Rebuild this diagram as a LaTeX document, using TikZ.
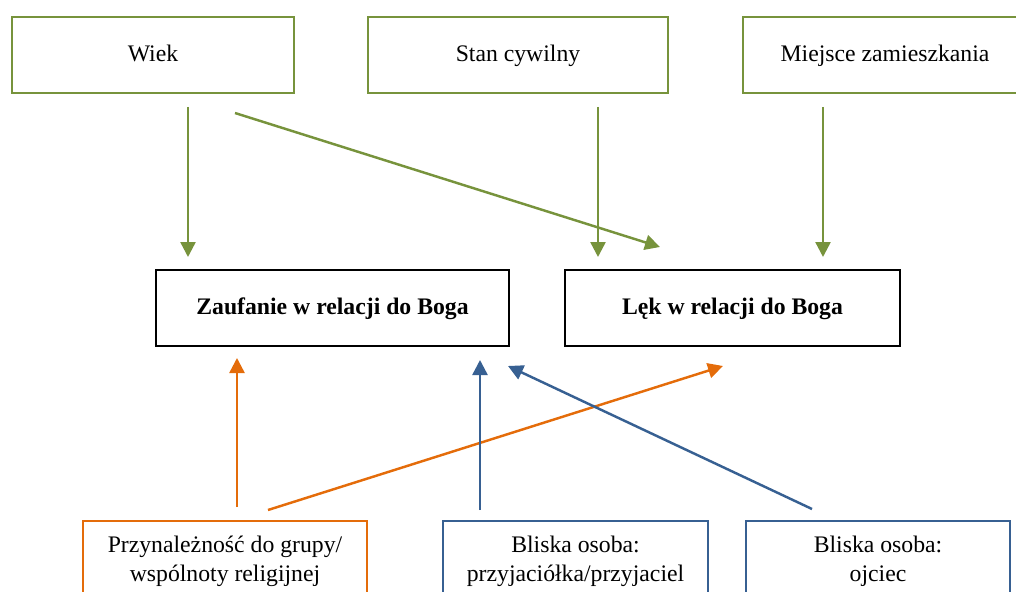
\documentclass[tikz,border=0pt]{standalone}
\usepackage{fontspec}
\setmainfont{Liberation Serif}
\usetikzlibrary{arrows.meta,positioning}
\definecolor{wgreen}{RGB}{119,147,60}
\definecolor{worange}{RGB}{228,108,10}
\definecolor{wblue}{RGB}{55,96,146}

\begin{document}
\begin{tikzpicture}[x=0.02cm,y=-0.02cm,>={Triangle[length=3mm,width=3mm]},
  box/.style={draw,line width=1.5pt,align=center,minimum height=15.2mm,
              inner sep=0pt,font=\fontsize{13.5}{16.5}\selectfont},
  onebox/.style={box,text height=2.2ex,text depth=0.6ex},
  twobox/.style={box,minimum height=16mm},
  link/.style={->,line width=1.4pt}]
\useasboundingbox (0,0) rectangle (1016,591);
\clip (0,0) rectangle (1016,591);
% top row
\node[onebox,draw=wgreen,minimum width=56.4mm] (wiek) at (153,55) {Wiek};
\node[onebox,draw=wgreen,minimum width=60mm] (stan) at (518,55) {Stan cywilny};
\node[onebox,draw=wgreen,minimum width=56.8mm] (miejsce) at (885,55) {Miejsce zamieszkania};
% middle row
\node[onebox,minimum width=70.6mm,font=\fontsize{13.5}{16}\selectfont\bfseries] (zauf) at (332.5,308) {Zaufanie w relacji do Boga};
\node[onebox,minimum width=67mm,font=\fontsize{13.5}{16}\selectfont\bfseries] (lek) at (732.5,308) {Lęk w relacji do Boga};
% bottom row
\node[twobox,draw=worange,minimum width=56.8mm] (grupa) at (225,561) {Przynależność do grupy/\\wspólnoty religijnej};
\node[twobox,draw=wblue,minimum width=53mm] (przyj) at (575.5,561) {Bliska osoba:\\przyjaciółka/przyjaciel};
\node[twobox,draw=wblue,minimum width=52.8mm] (ojciec) at (878,561) {Bliska osoba:\\ojciec};
% arrow ends
\coordinate (wiek-a) at (188,107);
\coordinate (wiek-b) at (235,113);
\coordinate (stan-a) at (598,107);
\coordinate (miejsce-a) at (823,107);
\coordinate (zauf-a) at (188,257);
\coordinate (zauf-b) at (237,358);
\coordinate (zauf-c) at (480,360);
\coordinate (zauf-d) at (508,366);
\coordinate (lek-a) at (660,247);
\coordinate (lek-b) at (598,257);
\coordinate (lek-c) at (823,257);
\coordinate (lek-d) at (723,366);
\coordinate (grupa-a) at (237,507);
\coordinate (grupa-b) at (268,510);
\coordinate (przyj-a) at (480,510);
\coordinate (ojciec-a) at (812,509);
% connectors
\draw[link,wgreen] (wiek-a) -- (zauf-a);
\draw[link,wgreen] (wiek-b) -- (lek-a);
\draw[link,wgreen] (stan-a) -- (lek-b);
\draw[link,wgreen] (miejsce-a) -- (lek-c);
\draw[link,worange] (grupa-a) -- (zauf-b);
\draw[link,worange] (grupa-b) -- (lek-d);
\draw[link,wblue] (przyj-a) -- (zauf-c);
\draw[link,wblue] (ojciec-a) -- (zauf-d);
\end{tikzpicture}
\end{document}
